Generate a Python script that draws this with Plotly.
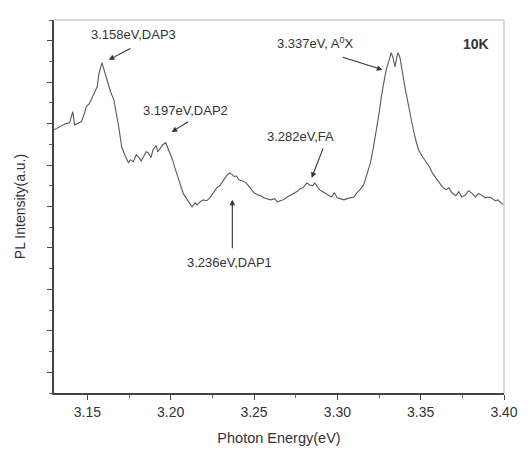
import plotly.graph_objects as go

energy = [3.1300, 3.1324, 3.1347, 3.1371, 3.1394, 3.1412, 3.1424, 3.1441, 3.1465, 3.1482,
          3.1494, 3.1512, 3.1529, 3.1547, 3.1559, 3.1570, 3.1582, 3.1588, 3.1600, 3.1612,
          3.1629, 3.1641, 3.1659, 3.1670, 3.1688, 3.1706, 3.1717, 3.1729, 3.1747, 3.1759,
          3.1776, 3.1794, 3.1806, 3.1823, 3.1835, 3.1853, 3.1865, 3.1882, 3.1894, 3.1912,
          3.1923, 3.1941, 3.1953, 3.1970, 3.1982, 3.1994, 3.2011, 3.2023, 3.2041, 3.2059,
          3.2076, 3.2100, 3.2117, 3.2129, 3.2147, 3.2158, 3.2176, 3.2194, 3.2217, 3.2235,
          3.2253, 3.2276, 3.2294, 3.2317, 3.2335, 3.2353, 3.2370, 3.2382, 3.2394, 3.2411,
          3.2429, 3.2453, 3.2470, 3.2482, 3.2500, 3.2523, 3.2541, 3.2558, 3.2582, 3.2600,
          3.2623, 3.2641, 3.2658, 3.2676, 3.2699, 3.2717, 3.2735, 3.2758, 3.2776, 3.2794,
          3.2817, 3.2835, 3.2852, 3.2864, 3.2882, 3.2894, 3.2911, 3.2923, 3.2941, 3.2964,
          3.2982, 3.2999, 3.3017, 3.3040, 3.3058, 3.3076, 3.3099, 3.3117, 3.3135, 3.3158,
          3.3176, 3.3199, 3.3217, 3.3235, 3.3252, 3.3264, 3.3282, 3.3293, 3.3311, 3.3323,
          3.3334, 3.3346, 3.3358, 3.3364, 3.3376, 3.3382, 3.3393, 3.3405, 3.3417, 3.3434,
          3.3452, 3.3470, 3.3487, 3.3511, 3.3534, 3.3552, 3.3570, 3.3593, 3.3611, 3.3629,
          3.3652, 3.3670, 3.3687, 3.3711, 3.3729, 3.3746, 3.3770, 3.3787, 3.3805, 3.3828,
          3.3846, 3.3864, 3.3887, 3.3905, 3.3923, 3.3946, 3.3964, 3.3981, 3.4000]

intensity = [6.35, 6.40, 6.45, 6.50, 6.52, 6.79, 6.47, 6.50, 6.55, 6.74,
             6.91, 6.98, 7.13, 7.27, 7.39, 7.71, 7.92, 7.97, 7.80, 7.63,
             7.42, 7.25, 7.08, 6.84, 6.43, 5.94, 5.82, 5.70, 5.56, 5.63,
             5.58, 5.75, 5.70, 5.60, 5.68, 5.82, 5.80, 5.68, 5.87, 5.97,
             5.82, 5.94, 5.99, 6.04, 5.92, 5.80, 5.63, 5.46, 5.24, 4.98,
             4.81, 4.66, 4.54, 4.49, 4.59, 4.54, 4.61, 4.66, 4.64, 4.71,
             4.81, 4.95, 5.00, 5.14, 5.24, 5.31, 5.27, 5.22, 5.24, 5.14,
             5.12, 5.07, 4.98, 4.90, 4.83, 4.78, 4.76, 4.71, 4.69, 4.66,
             4.69, 4.61, 4.64, 4.66, 4.73, 4.78, 4.81, 4.86, 4.93, 4.95,
             5.07, 5.02, 5.00, 5.07, 4.95, 4.90, 4.86, 4.83, 4.78, 4.73,
             4.83, 4.71, 4.69, 4.66, 4.69, 4.71, 4.73, 4.83, 4.90, 5.02,
             5.27, 5.56, 5.94, 6.35, 6.79, 7.15, 7.56, 7.80, 8.04, 8.21,
             8.09, 7.87, 8.12, 8.21, 8.09, 7.97, 7.68, 7.39, 7.13, 6.76,
             6.43, 6.11, 5.87, 5.70, 5.56, 5.46, 5.31, 5.19, 5.10, 4.98,
             4.90, 4.95, 4.83, 4.76, 4.86, 4.73, 4.78, 4.88, 4.83, 4.73,
             4.81, 4.78, 4.71, 4.73, 4.71, 4.64, 4.66, 4.59, 4.54]

x_ticks = [3.15, 3.20, 3.25, 3.30, 3.35, 3.40]
x_tick_labels = ["3.15", "3.20", "3.25", "3.30", "3.35", "3.40"]

# peak labels: text, text position (x, y), arrow head (x, y), arrow tail offset in px (ax, ay)
peak_labels = ["3.158eV,DAP3", "3.197eV,DAP2", "3.236eV,DAP1", "3.282eV,FA", "3.337eV, A<sup>0</sup>X"]
label_x = [3.1776, 3.2088, 3.2353, 3.2776, 3.2864]
label_y = [8.65, 6.81, 3.14, 6.18, 8.45]
head_x = [3.1629, 3.2006, 3.2370, 3.2846, 3.3270]
head_y = [8.04, 6.30, 4.66, 5.19, 7.80]
tail_ax = [23, 18, 0, 12, -41]
tail_ay = [-12, -11, 50, -31, -13]

FONT = "Liberation Sans, Arial, sans-serif"

fig = go.Figure()
fig.add_trace(go.Scatter(x=energy, y=intensity, mode="lines",
                         line=dict(color="#5a5a5a", width=1.1),
                         showlegend=False, hoverinfo="skip"))

for i, t in enumerate(peak_labels):
    fig.add_annotation(x=label_x[i], y=label_y[i], text=t, showarrow=False,
                       font=dict(family=FONT, size=13, color="#333333"))
    fig.add_annotation(x=head_x[i], y=head_y[i], text="", showarrow=True,
                       arrowhead=2, arrowsize=1, arrowwidth=1.1, arrowcolor="#333333",
                       ax=tail_ax[i], ay=tail_ay[i])

fig.add_annotation(x=3.3834, y=8.41, text="<b>10K</b>", showarrow=False,
                   font=dict(family=FONT, size=14, color="#333333"))

# light frame on top and right
fig.add_shape(type="line", xref="paper", yref="paper", x0=0, x1=1, y0=1, y1=1,
              line=dict(color="#cccccc", width=1.5))
fig.add_shape(type="line", xref="paper", yref="paper", x0=1, x1=1, y0=0, y1=1,
              line=dict(color="#cccccc", width=1.5))

fig.update_layout(
    width=530, height=457,
    margin=dict(l=54, r=17, t=20, b=64),
    paper_bgcolor="white", plot_bgcolor="white",
    font=dict(family=FONT, size=12, color="#333333"),
    xaxis=dict(range=[3.13, 3.40], tickvals=x_ticks, ticktext=x_tick_labels,
               showgrid=False, zeroline=False, showline=True, linecolor="#444444",
               linewidth=1.5, ticks="outside", ticklen=5, tickcolor="#444444",
               minor=dict(ticks="outside", ticklen=3, dtick=0.025, tick0=3.15, tickcolor="#666666"),
               title=dict(text="Photon Energy(eV)", font=dict(size=14.5), standoff=14),
               tickfont=dict(size=14)),
    yaxis=dict(range=[0, 9], tickvals=[0.5, 1.5, 2.5, 3.5, 4.5, 5.5, 6.5, 7.5, 8.5],
               showticklabels=False, showgrid=False, zeroline=False, showline=True,
               linecolor="#444444", linewidth=1.5, ticks="outside", ticklen=5,
               tickcolor="#444444",
               minor=dict(ticks="outside", ticklen=3, dtick=1, tick0=0, tickcolor="#666666"),
               title=dict(text="PL Intensity(a.u.)", font=dict(size=14), standoff=18)),
)

fig.write_html("out.html")
